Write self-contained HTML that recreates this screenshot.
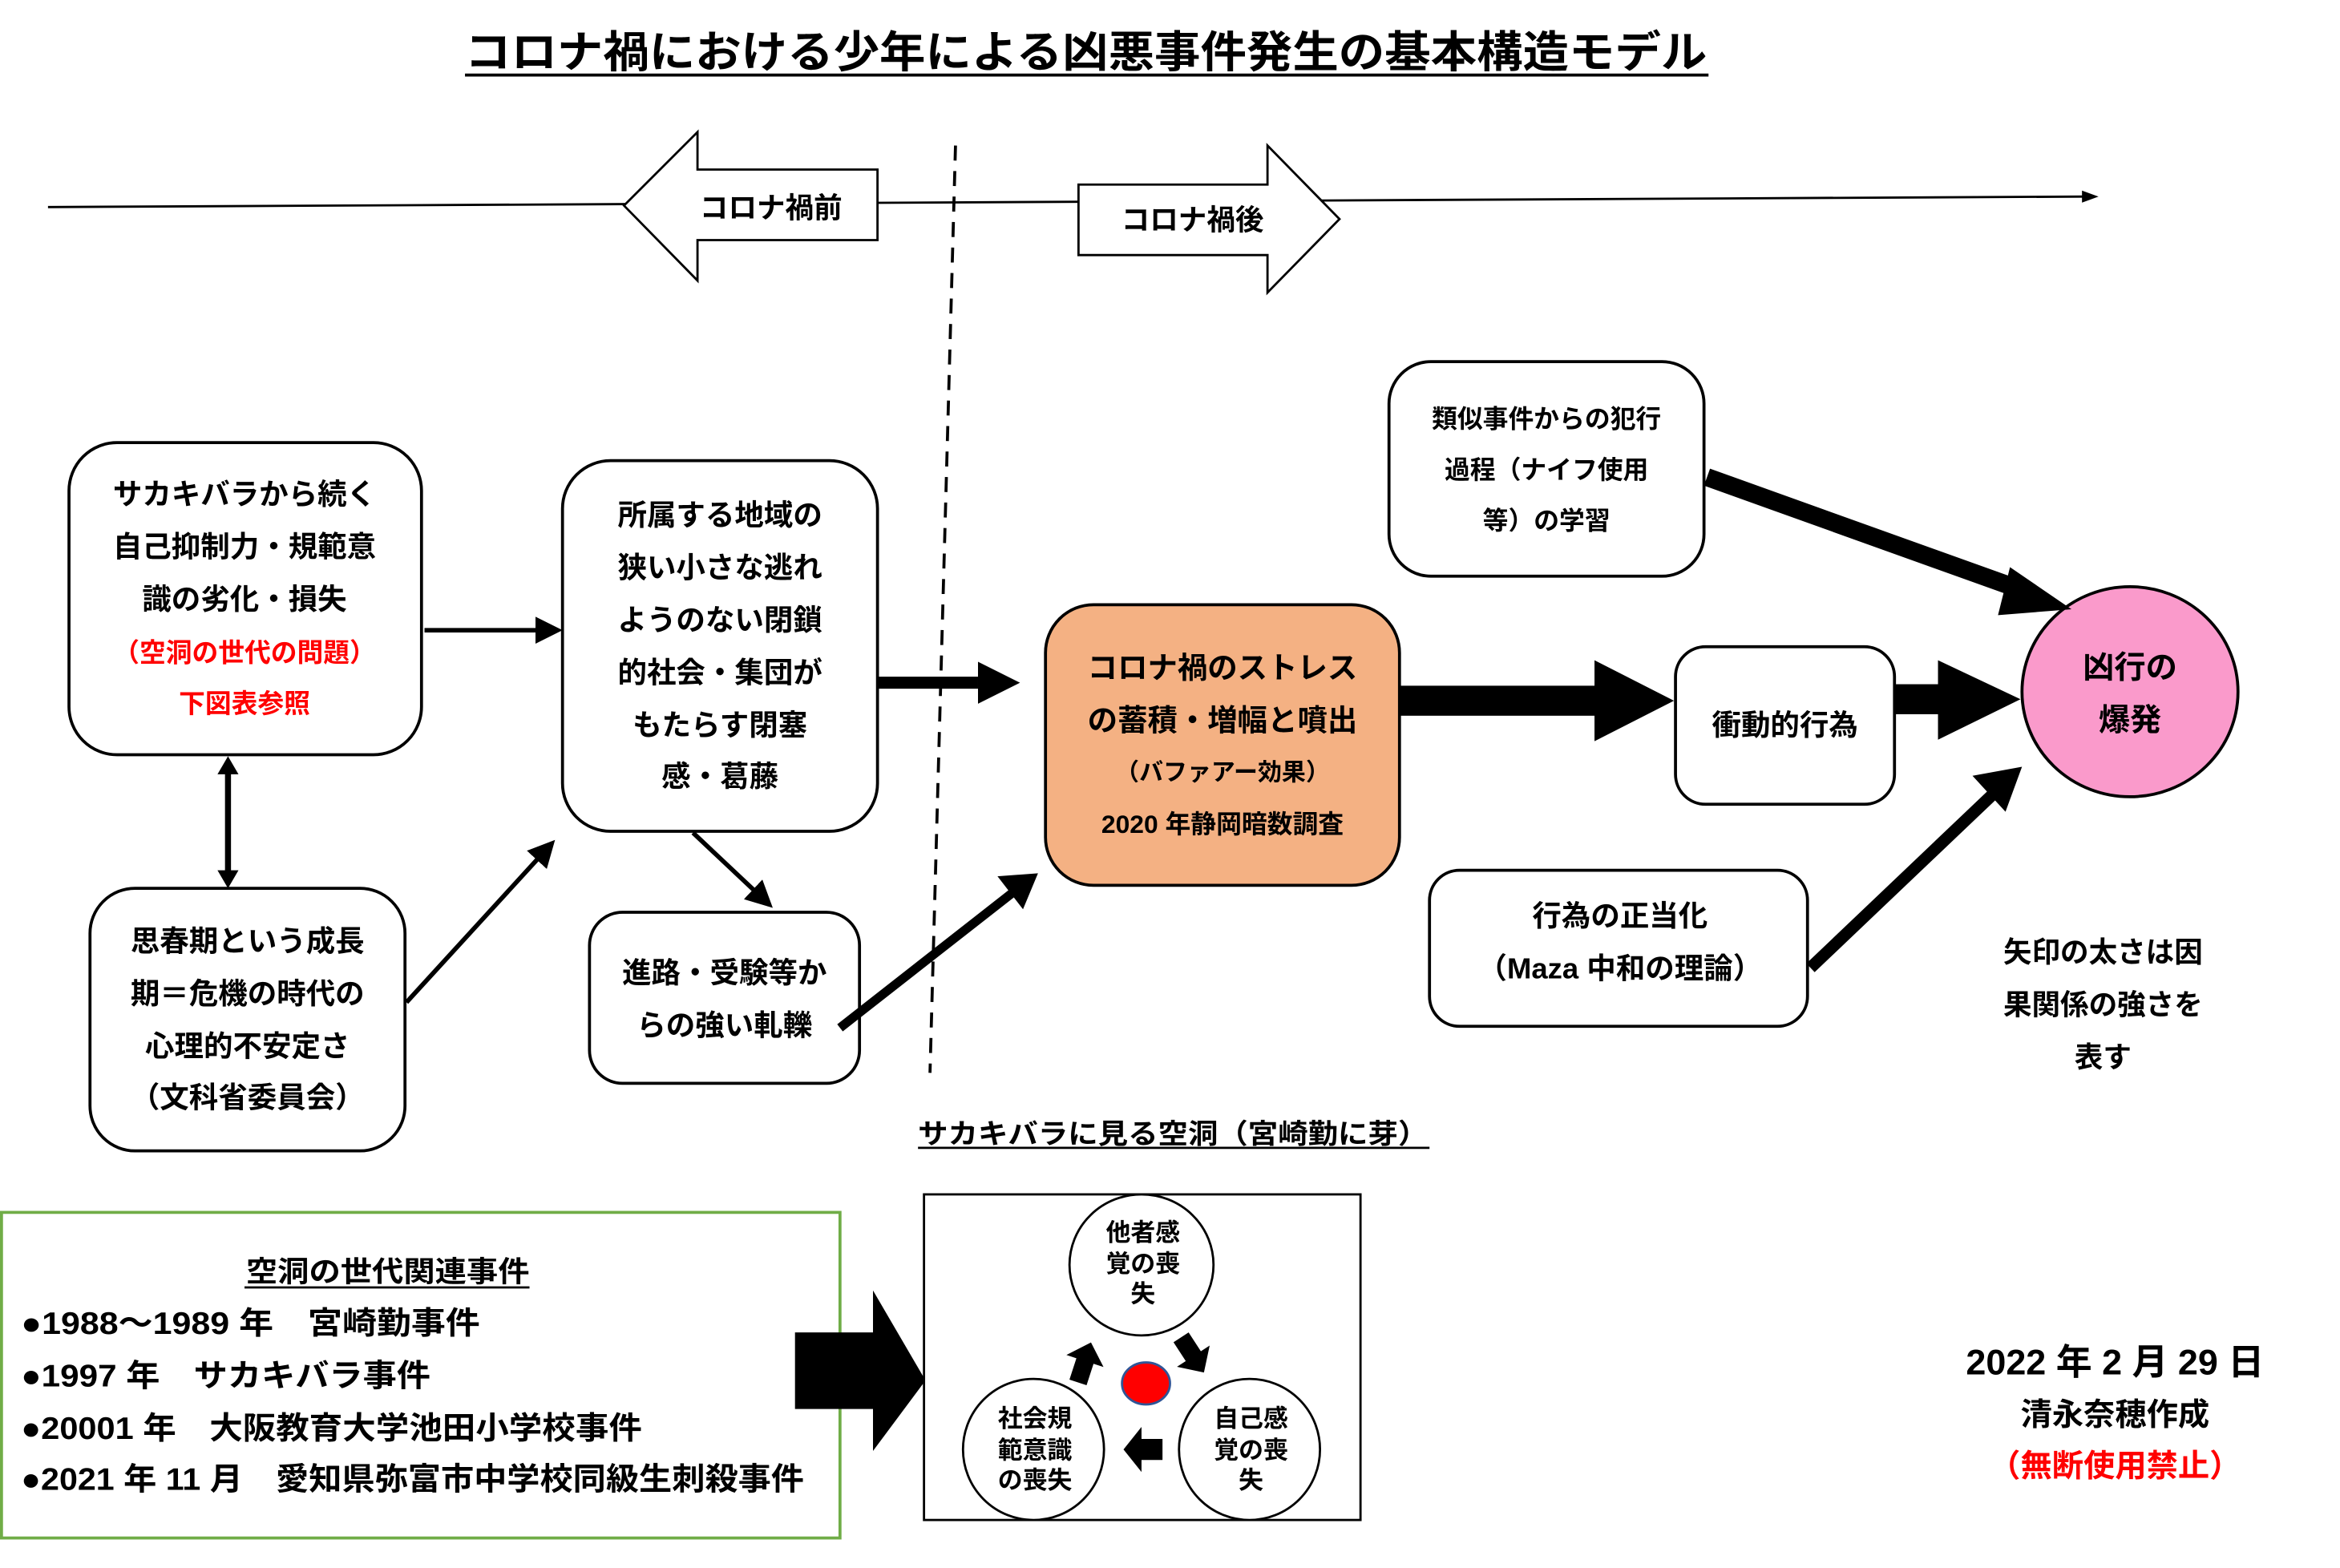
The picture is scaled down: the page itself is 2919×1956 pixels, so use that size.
<!DOCTYPE html>
<html><head><meta charset="utf-8"><style>
html,body{margin:0;padding:0;background:#fff;}
svg{display:block;}
text{font-family:"Liberation Sans","Noto Sans CJK JP",sans-serif;font-weight:700;fill:#000;}
</style></head><body>
<svg width="2919" height="1956" viewBox="0 0 1560 1045" preserveAspectRatio="none" xmlns="http://www.w3.org/2000/svg">
<defs>
<marker id="ah" markerWidth="6" markerHeight="6" refX="5" refY="3" orient="auto" markerUnits="strokeWidth"><path d="M0,0 L6,3 L0,6 z" fill="#000"/></marker>
</defs>
<!-- title -->
<text x="310" y="45" font-size="29" textLength="828" lengthAdjust="spacingAndGlyphs">コロナ禍における少年による凶悪事件発生の基本構造モデル</text>
<line x1="310" y1="50" x2="1139" y2="50" stroke="#000" stroke-width="2"/>

<!-- timeline -->
<line x1="32" y1="138" x2="1392" y2="131" stroke="#000" stroke-width="1.5"/>
<path d="M1388,127 L1399,131 L1388,135 z" fill="#000"/>
<path d="M416,137 L465,88 L465,113 L585,113 L585,160 L465,160 L465,187 z" fill="#fff" stroke="#000" stroke-width="1.5"/>
<text x="514" y="145" font-size="19" text-anchor="middle">コロナ禍前</text>
<path d="M719,123 L845,123 L845,97 L893,146 L845,195 L845,170 L719,170 z" fill="#fff" stroke="#000" stroke-width="1.5"/>
<text x="795" y="153" font-size="19" text-anchor="middle">コロナ禍後</text>
<line x1="637" y1="97" x2="620" y2="715" stroke="#000" stroke-width="2" stroke-dasharray="10,7"/>

<!-- box A -->
<rect x="46" y="295" width="235" height="208" rx="32" fill="#fff" stroke="#000" stroke-width="2"/>
<g font-size="19.5" text-anchor="middle">
<text x="163" y="336">サカキバラから続く</text>
<text x="163" y="371">自己抑制力・規範意</text>
<text x="163" y="406">識の劣化・損失</text>
<text x="163" y="441" style="fill:#f00" font-size="17.5">（空洞の世代の問題）</text>
<text x="163" y="475" style="fill:#f00" font-size="17.5">下図表参照</text>
</g>
<!-- box B -->
<rect x="60" y="592" width="210" height="175" rx="30" fill="#fff" stroke="#000" stroke-width="2"/>
<g font-size="19.5" text-anchor="middle">
<text x="165" y="634">思春期という成長</text>
<text x="165" y="669">期＝危機の時代の</text>
<text x="165" y="704">心理的不安定さ</text>
<text x="165" y="738">（文科省委員会）</text>
</g>
<!-- box C -->
<rect x="375" y="307" width="210" height="247" rx="32" fill="#fff" stroke="#000" stroke-width="2"/>
<g font-size="19.5" text-anchor="middle">
<text x="480" y="350">所属する地域の</text>
<text x="480" y="385">狭い小さな逃れ</text>
<text x="480" y="420">ようのない閉鎖</text>
<text x="480" y="455">的社会・集団が</text>
<text x="480" y="490">もたらす閉塞</text>
<text x="480" y="524">感・葛藤</text>
</g>
<!-- box D -->
<rect x="393" y="608" width="180" height="114" rx="22" fill="#fff" stroke="#000" stroke-width="2"/>
<g font-size="19.5" text-anchor="middle">
<text x="483" y="655">進路・受験等か</text>
<text x="483" y="690">らの強い軋轢</text>
</g>
<!-- box E -->
<rect x="697" y="403" width="236" height="187" rx="32" fill="#f4b183" stroke="#000" stroke-width="2"/>
<g text-anchor="middle">
<text x="815" y="452" font-size="20">コロナ禍のストレス</text>
<text x="815" y="487" font-size="20">の蓄積・増幅と噴出</text>
<text x="815" y="520" font-size="16">（バファアー効果）</text>
<text x="815" y="555" font-size="17">2020 年静岡暗数調査</text>
</g>
<!-- box F -->
<rect x="926" y="241" width="210" height="143" rx="28" fill="#fff" stroke="#000" stroke-width="2"/>
<g font-size="17" text-anchor="middle">
<text x="1031" y="285">類似事件からの犯行</text>
<text x="1031" y="319">過程（ナイフ使用</text>
<text x="1031" y="353">等）の学習</text>
</g>
<!-- box G -->
<rect x="1117" y="431" width="146" height="105" rx="20" fill="#fff" stroke="#000" stroke-width="2"/>
<text x="1190" y="490" font-size="19.5" text-anchor="middle">衝動的行為</text>
<!-- box H -->
<rect x="953" y="580" width="252" height="104" rx="20" fill="#fff" stroke="#000" stroke-width="2"/>
<g font-size="19.5" text-anchor="middle">
<text x="1080" y="617">行為の正当化</text>
<text x="1080" y="652">（Maza 中和の理論）</text>
</g>
<!-- ellipse -->
<ellipse cx="1420" cy="461" rx="72" ry="70" fill="#fa9acb" stroke="#000" stroke-width="2"/>
<text x="1420" y="452" font-size="21" text-anchor="middle">凶行の</text>
<text x="1420" y="487" font-size="21" text-anchor="middle">爆発</text>
<g font-size="19" text-anchor="middle">
<text x="1402" y="641">矢印の太さは因</text>
<text x="1402" y="676">果関係の強さを</text>
<text x="1402" y="711">表す</text>
</g>

<!-- arrows -->
<line x1="283" y1="420" x2="372" y2="420" stroke="#000" stroke-width="3" marker-end="url(#ah)"/>
<line x1="152" y1="512" x2="152" y2="584" stroke="#000" stroke-width="4"/>
<path d="M145,516 L152,504 L159,516 z" fill="#000"/>
<path d="M145,580 L152,592 L159,580 z" fill="#000"/>
<line x1="271" y1="668" x2="368" y2="562" stroke="#000" stroke-width="3" marker-end="url(#ah)"/>
<line x1="462" y1="555" x2="513" y2="603" stroke="#000" stroke-width="3" marker-end="url(#ah)"/>
<line x1="585" y1="455" x2="652" y2="455" stroke="#000" stroke-width="8"/>
<path d="M652,441 L680,455 L652,469 z" fill="#000"/>
<line x1="560" y1="685" x2="675" y2="595" stroke="#000" stroke-width="6"/>
<path d="M665,584 L692,582 L682,606 z" fill="#000"/>
<rect x="933" y="457" width="132" height="20" fill="#000"/>
<path d="M1063,440 L1116,467 L1063,494 z" fill="#000"/>
<rect x="1263" y="456" width="31" height="20" fill="#000"/>
<path d="M1292,440 L1347,466 L1292,493 z" fill="#000"/>
<line x1="1138" y1="318" x2="1350" y2="394" stroke="#000" stroke-width="12"/>
<path d="M1340,378 L1381,406 L1332,410 z" fill="#000"/>
<line x1="1207" y1="645" x2="1330" y2="528" stroke="#000" stroke-width="8"/>
<path d="M1315,517 L1348,511 L1337,541 z" fill="#000"/>

<!-- bottom -->
<text x="612" y="762" font-size="18.5" textLength="340" lengthAdjust="spacingAndGlyphs">サカキバラに見る空洞（宮崎勤に芽）</text>
<line x1="612" y1="765" x2="953" y2="765" stroke="#000" stroke-width="1.5"/>
<rect x="1" y="808" width="559" height="217" fill="#fff" stroke="#70ad47" stroke-width="2"/>
<text x="164" y="854" font-size="19" textLength="189" lengthAdjust="spacingAndGlyphs">空洞の世代関連事件</text>
<line x1="163" y1="858" x2="353" y2="858" stroke="#000" stroke-width="1.5"/>
<g font-size="21">
<text x="14" y="889" textLength="306" lengthAdjust="spacingAndGlyphs">●1988～1989 年　宮崎勤事件</text>
<text x="14" y="924" textLength="273" lengthAdjust="spacingAndGlyphs">●1997 年　サカキバラ事件</text>
<text x="14" y="959" textLength="414" lengthAdjust="spacingAndGlyphs">●20001 年　大阪教育大学池田小学校事件</text>
<text x="14" y="993" textLength="522" lengthAdjust="spacingAndGlyphs">●2021 年 11 月　愛知県弥富市中学校同級生刺殺事件</text>
</g>
<path d="M530,888 L582,888 L582,860 L617,920 L582,967 L582,939 L530,939 z" fill="#000"/>

<rect x="616" y="796" width="291" height="217" fill="#fff" stroke="#000" stroke-width="1.5"/>
<ellipse cx="761" cy="843" rx="48" ry="47" fill="#fff" stroke="#000" stroke-width="1.5"/>
<ellipse cx="689" cy="966" rx="47" ry="47" fill="#fff" stroke="#000" stroke-width="1.5"/>
<ellipse cx="833" cy="966" rx="47" ry="47" fill="#fff" stroke="#000" stroke-width="1.5"/>
<g font-size="16.5" text-anchor="middle">
<text x="762" y="827">他者感</text><text x="762" y="848">覚の喪</text><text x="762" y="868">失</text>
<text x="690" y="951">社会規</text><text x="690" y="972">範意識</text><text x="690" y="992">の喪失</text>
<text x="834" y="951">自己感</text><text x="834" y="972">覚の喪</text><text x="834" y="992">失</text>
</g>
<ellipse cx="764" cy="922" rx="16" ry="14" fill="#f00" stroke="#2f5597" stroke-width="1.5"/>
<g fill="#000">
<path transform="translate(723,908) rotate(-72)" d="M-14,-6 L1,-6 L1,-13 L14,0 L1,13 L1,6 L-14,6 z"/>
<path transform="translate(795,903) rotate(57)" d="M-14,-6 L1,-6 L1,-13 L14,0 L1,13 L1,6 L-14,6 z"/>
<path transform="translate(762,966) rotate(180)" d="M-13,-7 L1,-7 L1,-15 L13,0 L1,15 L1,7 L-13,7 z"/>
</g>

<g text-anchor="middle">
<text x="1410" y="916" font-size="24">2022 年 2 月 29 日</text>
<text x="1410" y="950" font-size="21">清永奈穂作成</text>
<text x="1410" y="984" font-size="21" style="fill:#f00">（無断使用禁止）</text>
</g>
</svg>
</body></html>
